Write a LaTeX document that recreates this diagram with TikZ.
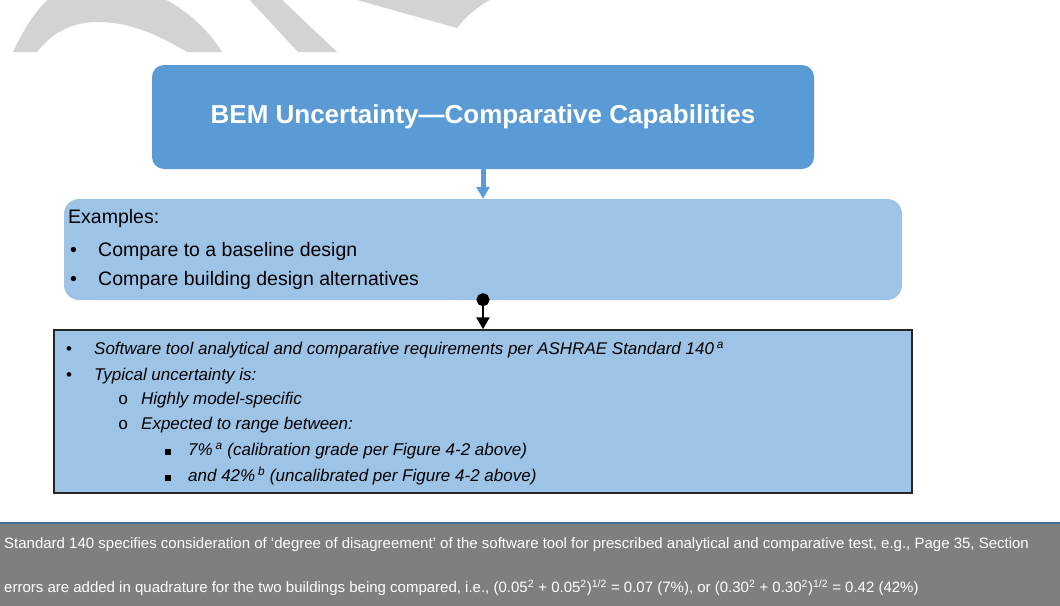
\documentclass[tikz,border=0pt]{standalone}
\usepackage{fontspec}
\setmainfont{Liberation Sans}
\setmonofont{Liberation Mono}
\usetikzlibrary{shapes,arrows.meta,positioning,calc}
\definecolor{titleblue}{RGB}{91,155,213}
\definecolor{paleblue}{RGB}{157,195,230}
\definecolor{footgrey}{RGB}{127,127,127}
\definecolor{footline}{RGB}{65,113,156}
\definecolor{markgrey}{RGB}{211,211,211}

\begin{document}
\begin{tikzpicture}[x=1pt, y=-1pt,
    txt/.style={anchor=west, inner sep=0pt, text=black},
    exfont/.style={font=\fontsize{19.5}{23}\selectfont},
    detfont/.style={font=\fontsize{17}{20}\selectfont\itshape},
    footfont/.style={font=\fontsize{15}{18}\selectfont, text=white}]
    \useasboundingbox (0,0) rectangle (1060,605);

    % Watermark (cut off at the top)
    \begin{scope}
        \clip (0,0) rectangle (1060,52);
        \fill[markgrey] (13,52) .. controls (35,5) and (60,-20) .. (95,-20)
            .. controls (130,-20) and (190,0) .. (222,52) -- (187,52)
            .. controls (150,30) and (125,22) .. (97,22)
            .. controls (70,22) and (50,35) .. (37,52) -- cycle;
        \fill[markgrey] (245,-5) -- (277,-5) -- (337,52) -- (298,52) -- cycle;
        \fill[markgrey] (340,-5) -- (357,0) -- (457,28) .. controls (465,18) and (475,8) .. (490,0) -- (495,-5) -- cycle;
    \end{scope}

    % Title
    \node[fill=titleblue, rounded corners=12pt, minimum width=662pt, minimum height=104pt,
          text=white, font=\fontsize{26}{30}\selectfont\bfseries] (title) at (483,117)
          {BEM Uncertainty—Comparative Capabilities};

    % Examples
    \node[fill=paleblue, rounded corners=15pt, minimum width=838pt, minimum height=101pt] (examples) at (483,249.5) {};
    \node[txt, exfont] (exhead) at (68,218) {Examples:};
    \node[txt, exfont] (ex1) at (70,251) {\makebox[28pt][l]{•}Compare to a baseline design};
    \node[txt, exfont] (ex2) at (70,280) {\makebox[28pt][l]{•}Compare building design alternatives};

    % Details
    \node[fill=paleblue, draw=black!85, line width=1.5pt, minimum width=858pt, minimum height=163pt] (detail) at (483,411.5) {};
    \node[txt, detfont] (d1) at (66,350) {\makebox[28pt][l]{\upshape •}Software tool analytical and comparative requirements per ASHRAE Standard 140\,\textsuperscript{a}};
    \node[txt, detfont] (d2) at (66,376) {\makebox[28pt][l]{\upshape •}Typical uncertainty is:};
    \node[txt, detfont] (d3) at (118,400) {\makebox[23pt][l]{\upshape\ttfamily o}Highly model-specific};
    \node[txt, detfont] (d4) at (118,425) {\makebox[23pt][l]{\upshape\ttfamily o}Expected to range between:};
    \node[txt, detfont] (d5) at (165,451) {\makebox[23pt][l]{\rule[1pt]{6pt}{6pt}}7\%\,\textsuperscript{a} (calibration grade per Figure 4-2 above)};
    \node[txt, detfont] (d6) at (165,476) {\makebox[23pt][l]{\rule[1pt]{6pt}{6pt}}and 42\%\,\textsuperscript{b} (uncalibrated per Figure 4-2 above)};

    % Arrows
    \draw[titleblue, line width=5pt, -{Triangle[width=13pt,length=12pt]}] (title) -- (examples);
    \draw[black, line width=2.5pt, shorten <=-7pt, {Circle[length=13pt]}-{Triangle[width=13pt,length=12pt]}] (examples) -- (detail);

    % Footnotes
    \node[fill=footgrey, draw=footline, line width=1.5pt, minimum width=1064pt, minimum height=86pt, anchor=north west] (foot) at (-2,522) {};
    \node[txt, footfont] (f1) at (4,545) {Standard 140 specifies consideration of ‘degree of disagreement’ of the software tool for prescribed analytical and comparative test, e.g., Page 35, Section};
    \node[txt, footfont] (f2) at (4,588) {errors are added in quadrature for the two buildings being compared, i.e., (0.05\textsuperscript{2} + 0.05\textsuperscript{2})\textsuperscript{1/2} = 0.07 (7\%), or (0.30\textsuperscript{2} + 0.30\textsuperscript{2})\textsuperscript{1/2} = 0.42 (42\%)};
\end{tikzpicture}
\end{document}
